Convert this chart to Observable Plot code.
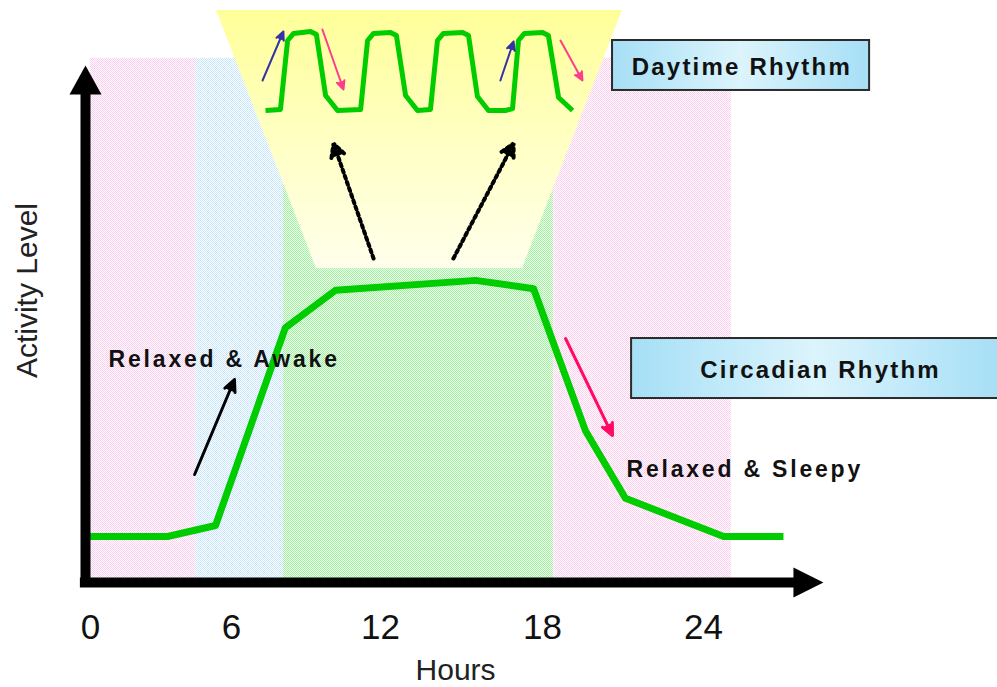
<!DOCTYPE html>
<html><head><meta charset="utf-8">
<script src="https://cdn.jsdelivr.net/npm/d3@7"></script>
<script src="https://cdn.jsdelivr.net/npm/@observablehq/plot@0.6"></script>
<style>body{margin:0;background:#fff}#chart svg{display:block}</style>
</head><body><div id="chart"></div>
<script>
// ---- data (hours on x, activity level on y) ----
const hourTicks = [0, 6, 12, 18, 24];
const circadianHours = [-0.17, 3.28, 5.32, 8.17, 10.19, 15.52, 17.67, 19.60, 21.09, 24.75, 26.98];
const circadianLevel = [8.85, 8.85, 10.96, 49.0, 56.2, 58.1, 56.5, 29.2, 16.2, 8.85, 8.85];

const phases = ["night", "waking", "day", "evening"];
const phaseStart = [0, 4.47, 8.09, 18.41];
const phaseEnd = [4.47, 8.09, 18.41, 25.04];
const phaseTop = 100.8;

const daytimeHours = [7.37, 7.97, 8.26, 8.50, 9.18, 9.42, 9.79, 10.27,
  11.20, 11.48, 11.72, 12.37, 12.59, 12.93, 13.37,
  13.85, 14.11, 14.33, 15.04, 15.26, 15.59, 16.00,
  16.63, 16.89, 17.11, 17.33, 18.00, 18.22, 18.60, 19.12];
const daytimeLevel = [90.77, 90.96, 104.23, 105.58, 105.96, 105.38, 93.65, 90.77,
  90.96, 104.23, 105.58, 105.77, 105.19, 93.65, 90.77,
  90.96, 104.23, 105.58, 105.77, 105.19, 93.46, 90.77,
  90.77, 91.15, 104.23, 105.58, 105.77, 105.19, 93.27, 90.77];

const zoomLevel = [110.0, 60.4];
const zoomLeft = [5.36, 9.42];
const zoomRight = [20.98, 17.26];

const awakeArrow = [{x1: 4.43, y1: 20.77, x2: 6.12, y2: 39.04}];
const sleepyArrow = [{x1: 18.86, y1: 46.92, x2: 20.61, y2: 28.27}];
const zoomArrows = [{x1: 11.72, y1: 62.31, x2: 10.11, y2: 84.42}, {x1: 14.70, y1: 62.31, x2: 16.93, y2: 84.42}];
const riseArrows = [{x1: 7.25, y1: 96.54, x2: 8.09, y2: 105.96}, {x1: 16.44, y1: 96.54, x2: 16.93, y2: 104.04}];
const fallArrows = [{x1: 9.66, y1: 106.35, x2: 10.51, y2: 94.81}, {x1: 18.67, y1: 104.23, x2: 19.49, y2: 96.54}];

const boxLabels = ["Daytime Rhythm", "Circadian Rhythm"];
const boxX1 = [20.61, 21.32];
const boxX2 = [30.19, 35.07];
const boxTop = [104.23, 46.92];
const boxBottom = [94.62, 35.38];
const boxTextX = [25.43, 28.36];
const boxTextY = [98.98, 40.9];

const phaseLabels = ["Relaxed & Awake", "Relaxed & Sleepy"];
const phaseLabelX = [0.77, 21.13];
const phaseLabelY = [42.88, 21.73];

const axisOriginX = -0.213;
const xAxisFrom = -0.43, xAxisTo = 27.5, xAxisTip = 28.47;
const yAxisFrom = -0.96, yAxisTo = 94, yAxisTip = 99.42;

// ---- tables ----
const circadian = circadianHours.map((h, i) => ({h, v: circadianLevel[i]}));
const daytime = daytimeHours.map((h, i) => ({h, v: daytimeLevel[i]}));
const bands = phases.map((p, i) => ({phase: p, start: phaseStart[i], end: phaseEnd[i]}));
const zoomCone = zoomLevel.map((v, i) => ({v, l: zoomLeft[i], r: zoomRight[i]}));
const boxes = boxLabels.map((t, i) => ({t, x1: boxX1[i], x2: boxX2[i], y1: boxBottom[i], y2: boxTop[i], tx: boxTextX[i], ty: boxTextY[i]}));
const plabels = phaseLabels.map((t, i) => ({t, x: phaseLabelX[i], y: phaseLabelY[i]}));

const headUp = {draw(ctx) { ctx.moveTo(0, 0); ctx.lineTo(16, 29); ctx.lineTo(-16, 29); ctx.closePath(); }};
const headRight = {draw(ctx) { ctx.moveTo(0, 0); ctx.lineTo(-30, -15); ctx.lineTo(-30, 15); ctx.closePath(); }};

const green = "#00cc00";
const font = "'Liberation Sans', Arial, sans-serif";

const svg = Plot.plot({
  width: 997,
  height: 687,
  margin: 0,
  style: {fontFamily: font, background: "white", overflow: "visible"},
  x: {type: "linear", domain: hourTicks, range: [90, 231, 380, 542, 703], axis: null},
  y: {type: "linear", domain: [0, 100], range: [582, 62], axis: null},
  color: {type: "ordinal", domain: phases, range: ["url(#pinkDots)", "url(#blueDots)", "url(#greenHatch)", "url(#pinkDots)"]},
  marks: [
    Plot.rect(bands, {x1: "start", x2: "end", y1: 0, y2: phaseTop, fill: "phase"}),
    Plot.areaX(zoomCone, {y: "v", x1: "l", x2: "r", fill: "url(#sunGrad)"}),
    Plot.line(circadian, {x: "h", y: "v", stroke: green, strokeWidth: 7, strokeLinejoin: "round", strokeLinecap: "butt"}),
    Plot.line(daytime, {x: "h", y: "v", stroke: green, strokeWidth: 5, strokeLinejoin: "round", strokeLinecap: "butt"}),
    Plot.arrow(zoomArrows, {x1: "x1", y1: "y1", x2: "x2", y2: "y2", stroke: "black", fill: "black", strokeWidth: 4, strokeDasharray: "3,3.5", headLength: 5.5, headAngle: 55}),
    Plot.arrow(awakeArrow, {x1: "x1", y1: "y1", x2: "x2", y2: "y2", stroke: "black", fill: "black", strokeWidth: 3, headLength: 6.5, headAngle: 50}),
    Plot.arrow(sleepyArrow, {x1: "x1", y1: "y1", x2: "x2", y2: "y2", stroke: "#ff0a64", fill: "#ff0a64", strokeWidth: 3, headLength: 6.5, headAngle: 50}),
    Plot.arrow(riseArrows, {x1: "x1", y1: "y1", x2: "x2", y2: "y2", stroke: "#3434a6", fill: "#3434a6", strokeWidth: 2, headLength: 7, headAngle: 50}),
    Plot.arrow(fallArrows, {x1: "x1", y1: "y1", x2: "x2", y2: "y2", stroke: "#ff3d8b", fill: "#ff3d8b", strokeWidth: 2, headLength: 7, headAngle: 50}),
    Plot.rect(boxes, {x1: "x1", x2: "x2", y1: "y1", y2: "y2", fill: "url(#boxGrad)", stroke: "#2b2b2b", strokeWidth: 2}),
    Plot.text(boxes, {x: "tx", y: "ty", text: "t", fontSize: 24, fontWeight: "bold", fill: "#111"}),
    Plot.text(plabels, {x: "x", y: "y", text: "t", textAnchor: "start", fontSize: 23, fontWeight: "bold", fill: "#111"}),
    Plot.ruleY([0], {x1: xAxisFrom, x2: xAxisTo, stroke: "black", strokeWidth: 10}),
    Plot.ruleX([axisOriginX], {y1: yAxisFrom, y2: yAxisTo, stroke: "black", strokeWidth: 10}),
    Plot.dot([0], {x: xAxisTip, y: 0, symbol: headRight, fill: "black", stroke: "none"}),
    Plot.dot([0], {x: axisOriginX, y: yAxisTip, symbol: headUp, fill: "black", stroke: "none"}),
    Plot.text(hourTicks, {x: d => d, y: -8.62, text: d => String(d), fontSize: 35, fill: "#111"}),
    Plot.text(["Hours"], {x: 14.78, y: -16.81, text: d => d, fontSize: 30, fill: "#222"}),
    Plot.text(["Activity Level"], {x: -2.68, y: 56.15, text: d => d, rotate: -90, fontSize: 30, fill: "#222"})
  ]
});

// pattern and gradient definitions
const NS = "http://www.w3.org/2000/svg";
function el(name, attrs, parent) {
  const e = document.createElementNS(NS, name);
  for (const k in attrs) e.setAttribute(k, attrs[k]);
  if (parent) parent.appendChild(e);
  return e;
}
const defs = el("defs", {});
function dots(id, bg, fg) {
  const p = el("pattern", {id, width: 2, height: 2, patternUnits: "userSpaceOnUse"}, defs);
  el("rect", {width: 2, height: 2, fill: bg}, p);
  el("rect", {x: 0, y: 0, width: 1, height: 1, fill: fg}, p);
  el("rect", {x: 1, y: 1, width: 1, height: 1, fill: fg}, p);
}
dots("pinkDots", "#ffffff", "#ffcdef");
dots("blueDots", "#ffffff", "#c6e6ff");
dots("greenHatch", "#effeef", "#a0f0a0");
const sg = el("linearGradient", {id: "sunGrad", x1: 0, y1: 0, x2: 0, y2: 1}, defs);
el("stop", {offset: "0", "stop-color": "#ffff99"}, sg);
el("stop", {offset: "1", "stop-color": "#ffffec"}, sg);
const bg = el("linearGradient", {id: "boxGrad", x1: 0, y1: 0, x2: 1, y2: 0}, defs);
el("stop", {offset: "0", "stop-color": "#a6dff6"}, bg);
el("stop", {offset: "0.5", "stop-color": "#dcf4fc"}, bg);
el("stop", {offset: "1", "stop-color": "#a6dff6"}, bg);
svg.insertBefore(defs, svg.firstChild);

svg.querySelectorAll("text").forEach(t => {
  if (phaseLabels.includes(t.textContent)) t.setAttribute("letter-spacing", "2.8");
  if (boxLabels.includes(t.textContent)) t.setAttribute("letter-spacing", "2.2");
});

document.getElementById("chart").appendChild(svg);
</script>
</body></html>
